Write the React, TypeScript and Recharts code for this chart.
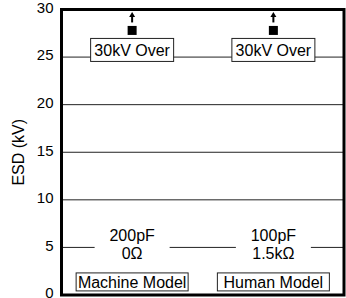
import React from 'react'
import { ComposedChart, Scatter, XAxis, YAxis, CartesianGrid, ReferenceArea } from 'recharts'

const models = ['Machine Model', 'Human Model']
const capacitance = ['200pF', '100pF']
const resistance = ['0Ω', '1.5kΩ']
// both pass beyond the top of the scale, marker sits just under 30 with an arrow
const esdLevel = [27.8, 27.8]
const overLabel = ['30kV Over', '30kV Over']
const specLevel = [5, 5]
const yTicks = [0, 5, 10, 15, 20, 25, 30]

const rows = models.map((name, i) => ({
  x: i + 0.5,
  name,
  esd: esdLevel[i],
  spec: specLevel[i],
  cap: capacitance[i],
  res: resistance[i],
  over: overLabel[i],
}))

const FONT = '"Liberation Sans", Arial, sans-serif'
const FS = 16

function OverMarker(props: any) {
  const { cx, cy, payload } = props
  return (
    <g>
      <line x1={cx} x2={cx} y1={cy - 8} y2={cy - 14} stroke="#000" strokeWidth={2} />
      <polygon points={`${cx - 3},${cy - 13.5} ${cx + 3},${cy - 13.5} ${cx},${cy - 18.5}`} fill="#000" />
      <rect x={cx - 4.5} y={cy - 4.5} width={9} height={9} fill="#000" />
      <rect x={cx - 41.5} y={cy + 8} width={83} height={23} fill="#fff" stroke="#222" />
      <text x={cx} y={cy + 19.5} dy="0.35em" textAnchor="middle" fontSize={FS} fill="#000">
        {payload.over}
      </text>
    </g>
  )
}

function SpecLabel(props: any) {
  const { cx, cy, payload } = props
  return (
    <g>
      <rect x={cx - 37.5} y={cy - 22} width={75} height={37} fill="#fff" />
      <text x={cx} y={cy - 12.5} dy="0.35em" textAnchor="middle" fontSize={FS} fill="#000">
        {payload.cap}
      </text>
      <text x={cx} y={cy + 5.5} dy="0.35em" textAnchor="middle" fontSize={FS} fill="#000">
        {payload.res}
      </text>
      <rect x={cx - 56} y={cy + 25.5} width={112} height={18} fill="#fff" stroke="#222" />
      <text x={cx} y={cy + 34.5} dy="0.35em" textAnchor="middle" fontSize={FS} fill="#000">
        {payload.name}
      </text>
    </g>
  )
}

function YTick(props: any) {
  const { x, y, payload } = props
  return (
    <text x={x} y={y - 2} dy="0.35em" textAnchor="end" fontSize={15} fill="#000">
      {payload.value}
    </text>
  )
}

function AxisTitle(props: any) {
  const { viewBox } = props
  const x = viewBox.x + 18
  const y = viewBox.y + viewBox.height / 2
  return (
    <text x={x} y={y} dy="0.35em" textAnchor="middle" fontSize={FS} fill="#000" transform={`rotate(-90 ${x} ${y})`}>
      ESD (kV)
    </text>
  )
}

export default function App() {
  return (
    <div style={{ position: 'absolute', left: 0, top: 0, fontFamily: FONT, background: '#fff' }}>
      <ComposedChart width={346} height={298} data={rows} margin={{ top: 9.5, right: 2, bottom: 3, left: 0 }}>
        <CartesianGrid vertical={false} stroke="#222" strokeWidth={1} />
        <XAxis type="number" dataKey="x" domain={[0, 2]} hide />
        <YAxis
          type="number"
          domain={[0, 30]}
          ticks={yTicks}
          interval={0}
          width={61.5}
          axisLine={false}
          tickLine={false}
          tick={<YTick />}
          label={{ content: <AxisTitle /> }}
        />
        <Scatter dataKey="spec" shape={<SpecLabel />} isAnimationActive={false} />
        <Scatter dataKey="esd" shape={<OverMarker />} isAnimationActive={false} />
        <ReferenceArea x1={0} x2={2} y1={0} y2={30} fill="none" stroke="#000" strokeWidth={3} ifOverflow="visible" />
      </ComposedChart>
    </div>
  )
}
